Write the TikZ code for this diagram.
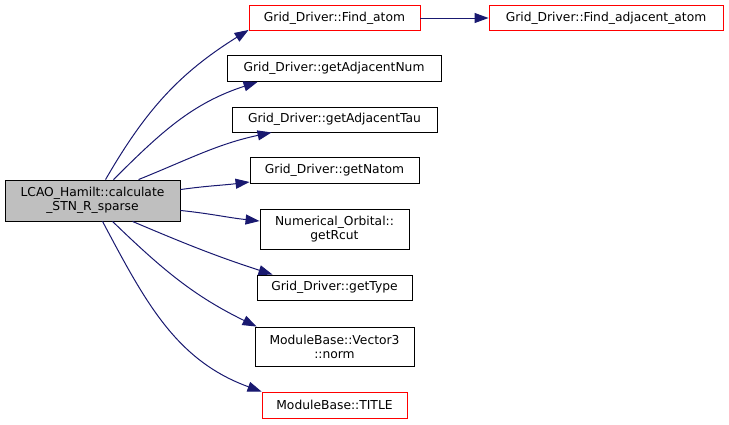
\documentclass[tikz,border=0pt]{standalone}
\usepackage{fontspec}
\setmainfont{DejaVu Sans}
\usetikzlibrary{arrows.meta}
\definecolor{edgecol}{HTML}{191970}
\definecolor{redbox}{HTML}{FF0000}
\definecolor{grayfill}{HTML}{BFBFBF}
\tikzset{
  fn/.style={draw=black, line width=0.9pt, rectangle, inner sep=0pt, align=center, font=\fontsize{12.3}{14}\selectfont, fill=white},
  fnred/.style={fn, draw=redbox},
  fnmain/.style={fn, fill=grayfill},
  call/.style={draw=edgecol, line width=1pt, -{Triangle[length=14pt,width=10pt]}}
}
\begin{document}
\begin{tikzpicture}[x=1pt,y=-1pt]
\useasboundingbox (0,0) rectangle (729,424);
\node[fnmain, minimum width=175, minimum height=41] (main) at (92.5,200.5) {LCAO\_Hamilt::calculate\\\_STN\_R\_sparse};
\node[fnred, minimum width=171, minimum height=25] (fa) at (334.5,18) {Grid\_Driver::Find\_atom};
\node[fnred, minimum width=234, minimum height=25] (faa) at (606,18) {Grid\_Driver::Find\_adjacent\_atom};
\node[fn, minimum width=214, minimum height=26] (gan) at (334,68.5) {Grid\_Driver::getAdjacentNum};
\node[fn, minimum width=205, minimum height=25] (gat) at (334.5,119.5) {Grid\_Driver::getAdjacentTau};
\node[fn, minimum width=169, minimum height=26] (gna) at (334.5,170) {Grid\_Driver::getNatom};
\node[fn, minimum width=149, minimum height=40] (grc) at (334.5,229) {Numerical\_Orbital::\\getRcut};
\node[fn, minimum width=155, minimum height=25] (gty) at (334.5,287.5) {Grid\_Driver::getType};
\node[fn, minimum width=159, minimum height=39] (nrm) at (334.5,346.5) {ModuleBase::Vector3\\::norm};
\node[fnred, minimum width=145, minimum height=26] (tit) at (334.5,405) {ModuleBase::TITLE};

\draw[call] ([xshift=101]main.north west) to[out=60,in=212] ([yshift=1]fa.south west);
\draw[call] ([xshift=109]main.north west) to[out=45,in=198] ([xshift=31]gan.south west);
\draw[call] ([xshift=134]main.north west) to[out=22,in=192] ([xshift=40]gat.south west);
\draw[call] ([yshift=-10]main.north east) to[out=8,in=187] ([yshift=-12]gna.west);
\draw[call] ([yshift=11]main.south east) to[out=-6,in=174] ([yshift=8]grc.west);
\draw[call] ([xshift=128]main.south west) to[out=-23,in=162] ([xshift=16]gty.north west);
\draw[call] ([xshift=108]main.south west) to[out=-44,in=154] ([xshift=2]nrm.north west);
\draw[call] ([xshift=98]main.south west) to[out=-62,in=160] (tit.north west);
\draw[call] (fa.east) -- (faa.west);
\end{tikzpicture}
\end{document}
